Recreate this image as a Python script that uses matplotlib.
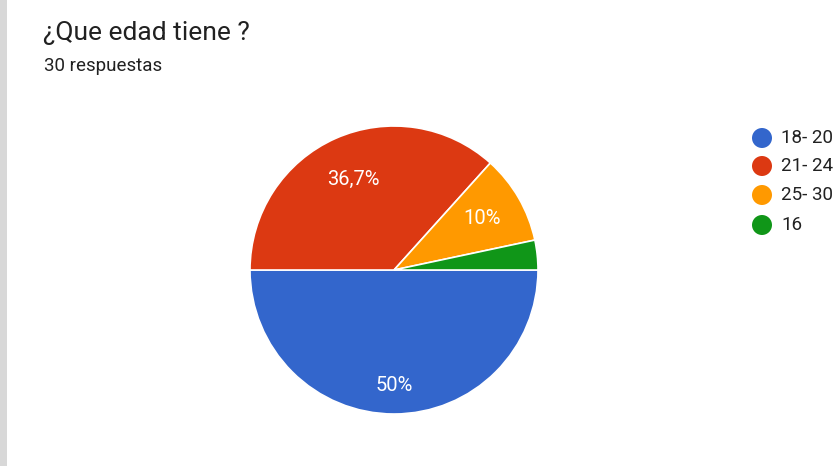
import numpy as np
import matplotlib
matplotlib.use("Agg")
import matplotlib.pyplot as plt
from matplotlib.patches import Rectangle, Ellipse

plt.rcParams['font.family'] = ['Roboto', 'DejaVu Sans']

categories = ["18- 20", "21- 24", "25- 30", "16"]
counts = [15, 11, 3, 1]
pct_labels = ["50%", "36,7%", "10%", ""]
colors = ["#3366cc", "#dc3912", "#ff9900", "#109618"]
title = "¿Que edad tiene ?"
subtitle = "30 respuestas"

W, H = 836, 466
fig = plt.figure(figsize=(W / 100, H / 100), dpi=100)
fig.patch.set_facecolor("white")

# textured left edge of the photo
fig.patches.append(Rectangle((0, 0), 7 / W, 1, transform=fig.transFigure,
                             facecolor="#d8d8d8", edgecolor="none", zorder=0))

cx, cy, r = 394, 270, 144
ax = fig.add_axes([(cx - r) / W, (H - cy - r) / H, 2 * r / W, 2 * r / H])
wedges, _ = ax.pie(counts, colors=colors, startangle=0, counterclock=False,
                   wedgeprops=dict(edgecolor="white", linewidth=1.2))
ax.set_xlim(-1, 1)
ax.set_ylim(-1, 1)
ax.set_aspect("equal")
ax.axis("off")

dists = [0.80, 0.69, 0.71, 0.7]
for w, lab, d in zip(wedges, pct_labels, dists):
    if not lab:
        continue
    ang = np.deg2rad((w.theta1 + w.theta2) / 2)
    ax.text(d * np.cos(ang), d * np.sin(ang), lab, ha="center", va="center",
            color="white", fontsize=14.5)

fig.text(43 / W, 1 - 33 / H, title, fontsize=19, color="#212121",
         ha="left", va="center")
fig.text(44 / W, 1 - 66 / H, subtitle, fontsize=13.5, color="#212121",
         ha="left", va="center")

# legend
ys = [138, 166, 195, 225]
for cat, col, y in zip(categories, colors, ys):
    fig.patches.append(Ellipse((762 / W, 1 - y / H), 20 / W, 20 / H,
                               transform=fig.transFigure,
                               facecolor=col, edgecolor="none"))
    fig.text(781 / W, 1 - y / H, cat, fontsize=13.5, color="#212121",
             ha="left", va="center")

fig.savefig("out.png", dpi=100, facecolor="white")
